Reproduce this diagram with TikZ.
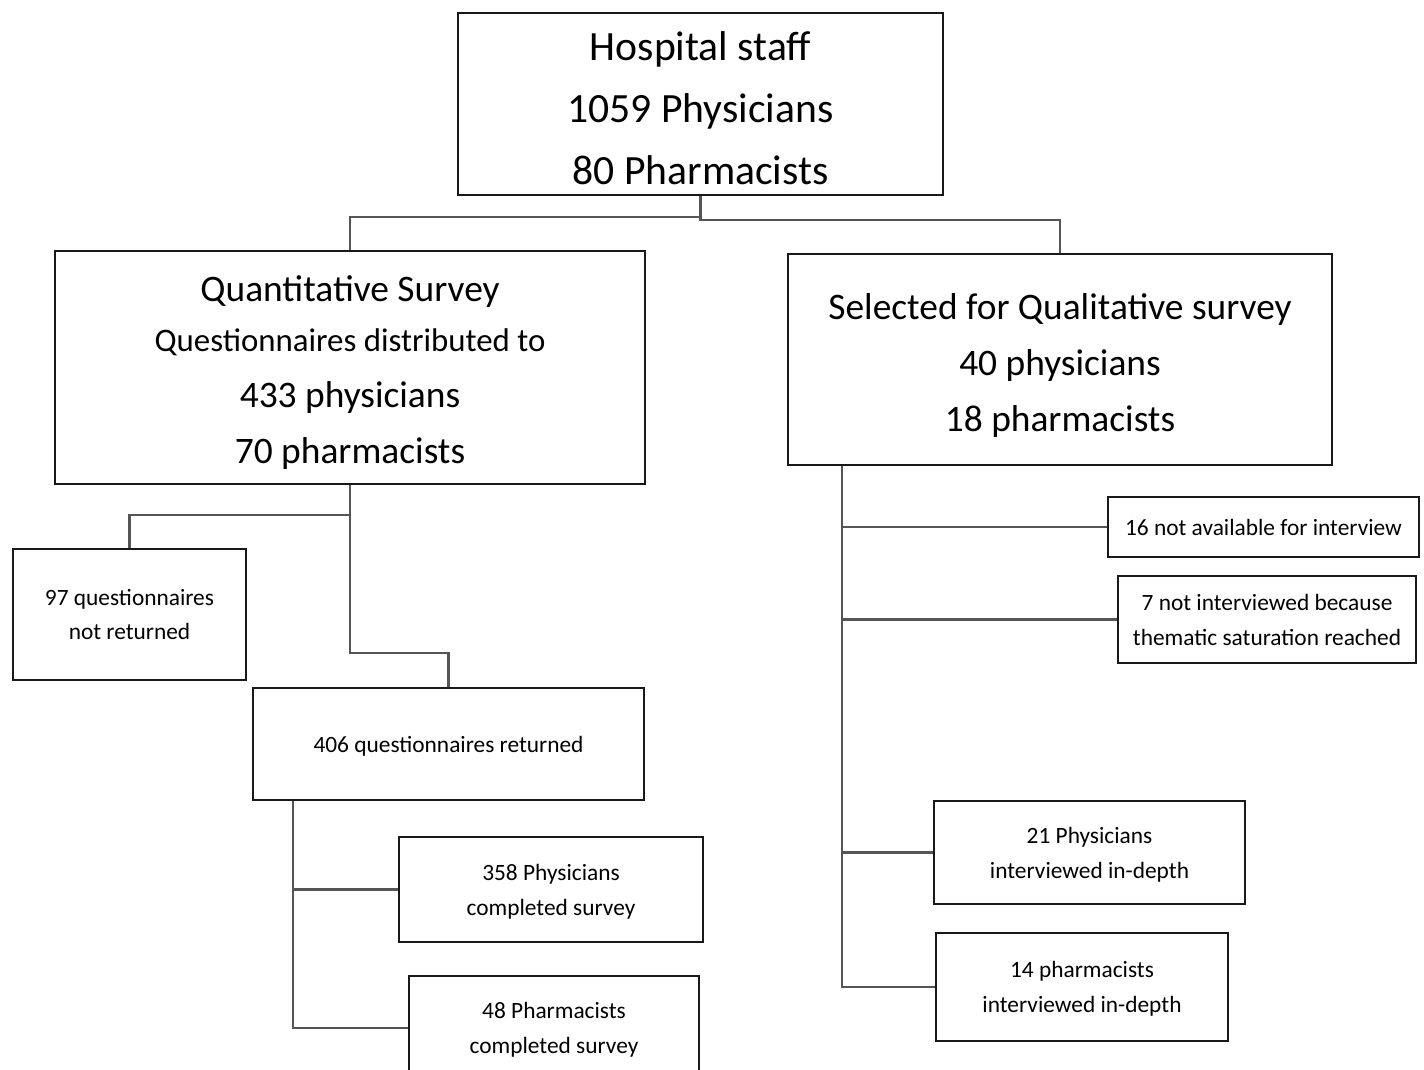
\documentclass[tikz,border=0pt]{standalone}
\usepackage{fontspec}
\setmainfont{Carlito}
\definecolor{linkgray}{RGB}{85,85,85}

\begin{document}
\begin{tikzpicture}[
		x=0.02cm, y=-0.02cm,
		box/.style={
			draw=black!90,
			line width=1.1pt,
			inner sep=0,
			align=center,
			text depth=0pt,
			fill=white
		},
		big/.style={font=\fontsize{23.7}{35.4}\selectfont},
		mid/.style={font=\fontsize{21.3}{31.8}\selectfont},
		small/.style={font=\fontsize{13.3}{19.8}\selectfont},
		link/.style={draw=linkgray, line width=1.6pt}
		]
		\clip (0,0) rectangle (1424,1070);
		\fill[white] (0,0) rectangle (1424,1070);
		% Top box
		\node[box,big,text height=92pt,minimum width=9.70cm,minimum height=3.64cm] (hosp) at (700.5,104)
			{Hospital staff\\ 1059 Physicians\\ 80 Pharmacists};
		% Survey boxes
		\node[box,mid,text height=109pt,minimum width=11.80cm,minimum height=4.66cm] (quant) at (350,367.5)
			{Quantitative Survey\\[-3.4pt] {\fontsize{18.7}{28}\selectfont Questionnaires distributed to}\\ 433 physicians\\ 70 pharmacists};
		\node[box,mid,text height=82pt,minimum width=10.88cm,minimum height=4.22cm] (qual) at (1060,359.5)
			{Selected for Qualitative survey\\ 40 physicians\\ 18 pharmacists};
		% Quantitative results
		\node[box,small,minimum width=4.66cm,minimum height=2.62cm] (notret) at (129.5,614.5)
			{97 questionnaires\\ not returned};
		\node[box,small,minimum width=7.82cm,minimum height=2.24cm] (ret) at (448.5,744)
			{406 questionnaires returned};
		\node[box,small,minimum width=6.08cm,minimum height=2.10cm] (phys) at (551,889.5)
			{358 Physicians\\ completed survey};
		\node[box,small,minimum width=5.80cm,minimum height=2.08cm] (pharm) at (554,1028)
			{48 Pharmacists\\ completed survey};
		% Qualitative results
		\node[box,small,minimum width=6.22cm,minimum height=1.20cm] (notavail) at (1263.5,527)
			{16 not available for interview};
		\node[box,small,minimum width=5.96cm,minimum height=1.74cm] (notint) at (1267,619.5)
			{7 not interviewed because\\ thematic saturation reached};
		\node[box,small,minimum width=6.22cm,minimum height=2.06cm] (intphys) at (1089.5,852.5)
			{21 Physicians\\ interviewed in-depth};
		\node[box,small,minimum width=5.84cm,minimum height=2.16cm] (intpharm) at (1082,987)
			{14 pharmacists\\ interviewed in-depth};
		% Staff -> surveys
		\foreach \sv/\dy in {quant/21,qual/24}
			\draw[link] (hosp.south) -- ++(0,\dy) -| (\sv.north);
		% Quantitative branches
		\draw[link] (quant.south) -- ++(0,30) -| (notret.north);
		\draw[link] (quant.south) -- ++(0,168) -| (ret.north);
		\coordinate (rettrunk) at ([xshift=0.82cm]ret.south west);
		\foreach \sv in {phys,pharm}
			\draw[link] (rettrunk) |- (\sv.west);
		% Qualitative branches
		\coordinate (qualtrunk) at ([xshift=1.1cm]qual.south west);
		\foreach \sv in {notavail,notint,intphys,intpharm}
			\draw[link] (qualtrunk) |- (\sv.west);
\end{tikzpicture}
\end{document}
